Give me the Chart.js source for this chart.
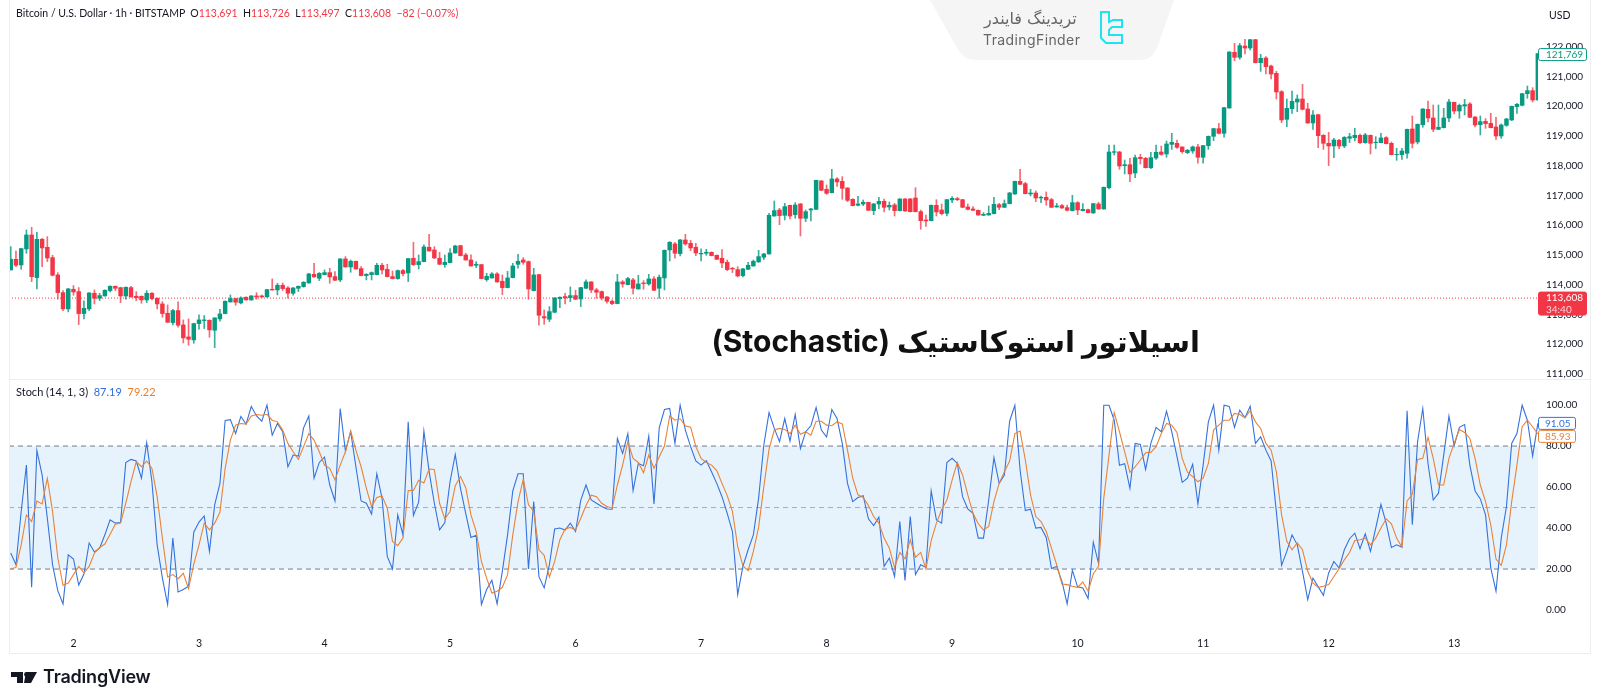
<!DOCTYPE html>
<html><head><meta charset="utf-8">
<script src="https://cdn.jsdelivr.net/npm/chart.js@4/dist/chart.umd.min.js"></script>
<style>
html,body{margin:0;padding:0;background:#fff;width:1600px;height:700px;overflow:hidden}
canvas{position:absolute;left:0}
.t{position:absolute;white-space:nowrap;font-family:Lato,"Open Sans",sans-serif;color:#131722}
.rule{position:absolute;background:#eceef2}
</style></head><body>
<canvas id="priceCanvas" width="1590" height="379" style="top:0"></canvas>
<canvas id="stochCanvas" width="1590" height="274" style="top:379px"></canvas>
<div class="rule" style="left:9px;top:0;width:1px;height:653px"></div>
<div class="rule" style="left:1590px;top:0;width:1px;height:653px"></div>
<div class="rule" style="left:9px;top:379px;width:1581px;height:1px"></div>
<div class="rule" style="left:9px;top:653px;width:1582px;height:1px"></div>
<svg width="1600" height="700" style="position:absolute;left:0;top:0;pointer-events:none">
  <path d="M930 0H1174L1157 48Q1152 60 1140 60H975Q963 60 957 48Z" fill="#f5f5f5"/>
  <path d="M1101 12H1109V22L1113 20H1122V27H1112L1109 30V35H1122V43H1106L1101 38Z" fill="none" stroke="#1fe3f2" stroke-width="2"/>
  <path d="M11 672H23V683H17V677H11ZM26 672H37L31 683H24Z" fill="#131722"/><circle cx="26.5" cy="674.5" r="2.4" fill="#131722"/>
</svg>
<div class="t" style="left:16px;top:6px;font-size:10.5px;line-height:14px"><span>Bitcoin / U.S. Dollar · 1h · BITSTAMP</span>&nbsp; O<span style="color:#f23645">113,691</span>&nbsp; H<span style="color:#f23645">113,726</span>&nbsp; L<span style="color:#f23645">113,497</span>&nbsp; C<span style="color:#f23645">113,608</span>&nbsp; <span style="color:#f23645">−82 (−0.07%)</span></div>
<div class="t" style="left:1549px;top:8px;font-size:10.5px;line-height:14px">USD</div>
<div class="t" dir="rtl" style="right:400px;top:320px;font-family:Inter,'DejaVu Sans';font-weight:bold;font-size:29px;line-height:42px;color:#111">اسیلاتور استوکاستیک <span style="font-size:30px">(Stochastic)</span></div>
<div class="t" dir="rtl" style="left:984px;top:9px;font-family:'DejaVu Sans';font-size:16px;line-height:20px;color:#666">تریدینگ فایندر</div>
<div class="t" style="left:983px;top:31px;font-family:Inter;font-size:14px;line-height:18px;color:#666;letter-spacing:.4px">TradingFinder</div>
<div class="t" style="left:16px;top:385px;font-size:11px;line-height:14px">Stoch (14, 1, 3)&nbsp; <span style="color:#2f6bdc">87.19</span>&nbsp; <span style="color:#e8802f">79.22</span></div>
<div class="t" style="left:43px;top:665px;font-family:Inter;font-weight:600;font-size:18px;line-height:24px;letter-spacing:-.2px">TradingView</div>
<script>
const opens=[114496,114854,114664,115202,115672,114238,115526,115258,114910,114328,113734,113186,113846,113768,113029,113186,113712,113544,113622,113802,113947,113902,113622,113902,113611,113611,113488,113712,113544,113354,113040,112726,113130,112648,112245,112144,112693,112794,112805,112469,112850,113029,113421,113533,113387,113578,113488,113622,113622,113589,113846,113824,113981,113891,113712,113880,113936,114059,114350,114216,114339,114406,114272,114160,114866,114597,114787,114541,114306,114339,114339,114653,114518,114272,114205,
114474,114395,114888,114675,114776,115258,115168,114888,114675,114742,115067,115314,115000,114832,114653,114675,114171,114227,114362,114115,113902,114238,114686,114832,114776,113802,114339,112928,112838,113074,113533,113600,113566,113634,113522,113880,114093,113824,113768,113589,113443,113365,114093,114003,114160,113858,114059,114026,114194,113880,114227,115168,115370,115045,115504,115392,115258,115034,115056,115090,114989,114888,114754,114552,114507,114306,114518,114630,114765,114922,115034,116310,116512,116333,116669,116355,116714,
116232,116512,116534,117486,117206,117094,117554,117475,117251,116870,116669,116714,116770,116490,116714,116803,116613,116680,116490,116882,116882,116915,116456,116176,116154,116669,116512,116400,116848,116893,116859,116613,116546,116501,116333,116344,116389,116691,116602,116725,117050,117475,117397,117050,117083,116915,116938,116859,116613,116658,116590,116490,116758,116490,116523,116411,116714,116546,117262,118450,118461,118002,118035,117755,118282,118248,117934,118259,118461,118394,118718,118752,
118630,118439,118495,118630,118283,118675,118988,119246,119089,119940,121811,121643,122023,121956,122236,121463,121620,121351,121105,120489,119559,119918,120142,120243,119907,119436,119716,119022,118753,118663,118854,118663,118921,118943,119022,118775,119022,118775,118775,118943,118753,118372,118372,118417,119235,118798,119380,119895,119604,119223,119279,119604,120131,119839,120007,120075,119638,119380,119492,119425,119302,119000,119358,119537,119985,120030,120422,120523,120209];
const highs=[115280,115134,115224,115840,115930,115762,115560,115616,114989,114406,113802,113880,113970,113902,113454,113734,113824,113712,113824,113958,113958,113914,113925,113947,113768,113622,113802,113734,113555,113432,113320,113174,113421,112816,112850,112704,112984,112962,112816,112894,113174,113454,113656,113544,113589,113589,113634,113734,113656,113846,114194,114048,114059,113936,113902,113958,114104,114384,114720,114406,114496,114552,114440,114877,114944,114832,114798,114608,114373,114429,114720,114720,114686,114462,114496,
114518,114888,115426,115000,115336,115694,115280,115090,115000,115213,115325,115325,115056,115000,114776,114686,114384,114406,114406,114328,114451,114720,115022,114910,114798,114552,114350,113152,113264,113566,113589,113712,113925,113813,113914,114160,114104,113880,113790,113600,113488,114350,114138,114250,114216,114317,114138,114350,114272,114328,115168,115448,115426,115526,115694,115493,115392,115202,115190,115101,115000,115179,114832,114586,114608,114552,114754,114832,115157,115056,116400,116814,116568,116736,116680,116758,116736,
116512,116568,117520,117509,117352,117878,117598,117632,117262,116893,116971,116848,116770,116736,116938,116882,116781,116736,116893,116893,116904,117262,116512,116344,116680,116859,116714,116870,116960,116938,116870,116714,116624,116512,116422,116646,116938,116736,116848,117106,117486,117878,117442,117206,117150,116982,117117,116904,116736,116702,116680,117005,116792,116725,116546,116736,116770,117285,118696,118696,118483,118192,118248,118360,118382,118282,118450,118696,118662,118830,119088,118864,
118640,118551,118663,118719,118686,119000,119257,119425,119963,121833,122113,122113,122247,122247,122247,121743,121665,121385,121172,120523,120243,120511,120377,120735,120097,119851,119727,119044,119123,118921,118887,118977,119089,119257,119067,119089,119033,118977,119089,118977,118798,118585,118585,119235,119671,119403,119918,120175,120041,120041,119929,120231,120142,120075,120231,120119,119649,119671,119582,119761,119627,119403,119593,120007,120097,120433,120679,120623,121769];
const lows=[114496,114608,114518,115056,114104,113858,114608,114776,114294,113510,113130,113085,113645,112659,112850,113130,113354,113466,113611,113757,113802,113398,113510,113578,113466,113376,113398,113488,113186,112906,112726,112648,112570,112043,111965,112032,112502,112525,112234,111886,112771,113018,113410,113309,113354,113477,113477,113510,113578,113578,113813,113656,113802,113544,113645,113768,113914,114048,114250,114138,114328,114048,114138,114104,114586,114418,114518,114294,114160,114160,114328,114362,114261,114194,114182,
114294,114104,114642,114530,114765,115123,114877,114675,114586,114731,115056,114966,114821,114619,114574,114194,114115,114216,114082,113667,113891,114227,114552,114686,113510,113790,112637,112670,112760,113051,113230,113354,113432,113499,113264,113869,113734,113544,113488,113376,113331,113354,113914,113992,113690,113846,113846,113981,113802,113544,113824,114798,114888,114966,115325,115146,114978,114798,114989,114966,114843,114574,114474,114406,114261,114261,114507,114619,114754,114843,115022,116299,116019,116176,116210,116232,115638,
116120,116142,116523,117162,117038,117083,117307,116870,116792,116646,116646,116658,116490,116355,116557,116445,116512,116310,116478,116467,116445,116445,115862,115963,116142,116310,116344,116310,116758,116826,116590,116512,116490,116333,116322,116333,116378,116523,116590,116714,117038,117363,117050,116982,116792,116758,116669,116590,116602,116568,116478,116478,116355,116478,116411,116400,116534,116534,117218,118360,117878,117722,117464,117598,118058,117923,117901,118214,118349,118282,118550,118584,
118417,118406,118417,118081,118081,118551,118843,119067,118955,119929,121531,121575,121755,121889,121452,121172,121083,120915,120243,119447,119313,119761,119817,119873,119425,119223,118607,118551,118003,118271,118574,118607,118775,118831,118742,118753,118395,118574,118764,118731,118361,118182,118215,118249,118596,118731,119291,119470,119145,119212,119268,119481,119739,119593,119705,119615,119302,119033,119257,119268,118887,118921,119324,119515,119761,120007,120265,120142,120200];
const closes=[114854,114653,115213,115672,114272,115526,115235,114899,114317,113734,113186,113858,113757,113029,113208,113723,113544,113634,113813,113947,113880,113622,113914,113589,113566,113488,113712,113533,113354,113029,112738,113130,112637,112211,112166,112693,112816,112816,112480,112883,113018,113443,113533,113410,113555,113488,113622,113589,113589,113835,113824,113981,113869,113712,113891,113947,114082,114362,114261,114384,114406,114261,114149,114866,114597,114787,114530,114306,114350,114406,114653,114496,114272,114205,114474,
114373,114877,114675,114776,115269,115134,114899,114686,114754,115067,115302,114978,114832,114630,114686,114205,114283,114362,114093,113902,114227,114630,114787,114754,113858,114328,112973,112883,113096,113555,113578,113555,113634,113510,113902,114093,113824,113746,113555,113443,113365,114093,114026,114205,113880,114026,114037,114194,113813,114250,115157,115426,115056,115504,115370,115235,115067,115056,115090,114978,114854,114731,114507,114530,114294,114530,114653,114787,114944,115034,116333,116490,116322,116624,116310,116680,116232,
116456,116546,117509,117173,117072,117554,117453,117240,116837,116658,116714,116770,116501,116714,116803,116602,116669,116490,116882,116478,116456,116456,116154,116142,116669,116445,116389,116859,116904,116859,116602,116534,116501,116344,116366,116400,116702,116602,116725,117083,117475,117374,117061,117083,116915,116938,116848,116602,116646,116579,116501,116758,116512,116534,116422,116725,116546,117274,118461,118472,117990,118035,117722,118270,118237,117934,118270,118450,118382,118730,118786,118618,
118473,118518,118630,118283,118675,118988,119246,119089,119951,121822,121643,122035,121956,122236,121463,121609,121329,121083,120478,119537,119929,120164,120243,119895,119436,119705,119011,118753,118663,118865,118663,118955,118977,119022,118775,119033,118753,118787,118932,118742,118372,118383,118495,119223,118753,119391,119907,119604,119223,119291,119604,120142,119839,120030,120052,119627,119369,119481,119414,119279,119000,119369,119571,119996,120063,120422,120523,120209,121769];
const stochK=[27.8,22.1,48.1,70.7,11.1,77.9,65.9,44.8,22.1,9.5,3.0,27.0,24.9,12.2,17.6,32.7,28.3,30.2,36.7,44.0,42.4,42.7,71.9,73.5,72.7,64.3,81.6,62.6,31.8,15.6,2.7,35.1,8.8,10.0,11.6,38.0,42.9,45.9,28.6,51.3,61.8,92.5,92.9,86.1,94.4,90.7,99.3,94.7,92.1,100,85.3,91.0,87.0,69.9,75.6,75.1,88.9,94.7,64.3,72.0,74.6,61.0,53.2,98.3,77.5,87.0,69.9,53.2,52.1,46.8,66.5,54.5,26.2,20.0,46.4,
36.7,91.8,46.1,52.6,87.3,67.5,52.1,39.1,42.7,62.6,75.9,59.4,47.2,35.4,36.5,2.7,10.0,14.5,3.0,18.9,36.7,58.1,66.5,66.5,20.0,52.9,16.3,10.8,22.1,39.5,40.0,39.0,42.4,38.3,53.6,61.0,53.7,52.1,50.5,49.3,49.2,83.7,76.4,86.1,58.3,71.5,70.4,84.8,51.8,88.9,97.8,98.3,81.3,99.9,87.8,79.7,72.7,70.7,72.9,67.5,61.8,55.3,47.2,38.3,7.5,21.3,29.4,36.7,54.5,80.5,96.3,88.6,82.1,93.4,82.4,95.4,78.8,
87.0,89.9,98.8,87.8,84.4,97.8,93.4,81.3,61.8,52.9,54.9,55.8,44.5,41.2,45.3,21.3,25.4,16.4,43.2,14.5,45.6,17.3,22.1,20.8,58.1,44.0,42.4,72.0,74.0,71.5,55.3,49.3,47.2,35.1,35.1,53.7,74.3,61.8,65.9,92.1,99.9,68.3,48.5,49.2,40.0,40.3,35.4,20.3,21.3,14.0,3.0,19.4,11.3,10.8,5.6,33.1,22.8,99.9,99.9,92.6,70.6,71.4,59.4,81.3,80.8,68.6,81.3,89.1,87.0,97.0,87.0,74.8,62.3,64.3,71.1,51.8,
70.7,91.8,99.9,78.0,99.9,99.3,89.1,97.5,93.8,99.4,81.3,84.5,78.0,72.7,48.0,21.8,28.6,36.7,31.8,18.9,5.1,15.6,11.3,7.2,18.1,23.7,20.5,29.4,34.8,37.5,29.9,37.2,28.6,40.0,51.6,42.4,30.5,31.8,30.7,97.2,41.6,82.1,98.3,71.5,53.7,57.0,75.6,94.6,80.1,89.1,90.5,70.7,58.1,54.2,46.4,20.5,9.2,35.1,50.5,81.3,86.1,99.9,92.6,75.1,91.05];
const stochD=[20.0,20.8,31.8,46.4,43.2,53.2,51.8,64.3,48.1,25.4,12.1,13.2,17.3,21.3,18.1,21.3,27.8,30.5,32.2,37.0,41.9,42.4,52.1,62.6,72.4,69.9,72.7,69.1,55.3,35.1,16.1,17.3,15.3,17.9,10.4,22.4,31.8,42.4,39.1,42.4,47.7,69.1,82.9,90.2,91.0,90.7,94.7,95.4,95.0,95.5,92.6,91.8,87.8,81.3,77.2,73.5,79.7,86.1,82.9,77.2,70.7,69.1,63.4,70.7,77.2,87.4,78.0,69.9,59.4,50.5,54.9,55.7,49.7,33.5,31.4,
35.1,58.3,58.3,63.3,62.0,68.8,68.6,52.1,44.5,48.1,60.7,65.1,59.7,46.4,38.3,23.7,15.6,8.3,9.2,11.1,17.3,36.7,52.9,63.8,51.3,48.1,29.4,26.7,16.1,23.7,34.3,39.5,40.3,39.1,44.8,51.0,56.0,55.3,52.1,50.5,49.7,61.0,70.7,82.1,74.0,72.0,67.0,75.6,69.1,74.8,80.0,94.7,92.6,93.3,89.9,89.2,79.7,74.0,72.0,70.7,68.0,61.8,55.8,48.1,31.0,21.6,19.2,28.6,40.3,60.2,78.5,87.8,88.6,88.1,86.0,90.2,85.7,
87.0,85.3,92.1,92.1,90.2,89.9,91.8,90.8,78.0,64.3,56.2,54.9,51.0,45.6,42.4,35.1,30.2,20.8,28.1,25.0,34.3,25.8,28.1,20.0,33.9,42.4,48.9,53.7,63.4,72.0,65.9,56.2,47.2,42.1,39.1,40.8,52.9,61.8,67.5,72.7,86.1,87.3,73.2,56.2,45.6,43.2,38.3,30.2,22.1,12.7,12.4,11.6,11.1,13.7,9.2,17.7,21.3,54.5,75.6,96.3,87.0,77.2,67.2,69.9,73.2,76.7,76.9,79.7,86.1,91.0,90.2,86.6,74.0,67.2,65.1,62.6,
64.3,71.5,87.8,90.2,92.6,92.6,95.9,95.4,93.8,97.2,91.8,88.6,81.3,78.0,67.5,46.4,33.5,29.4,32.7,29.4,18.9,13.2,11.1,11.6,12.4,16.4,20.2,24.5,28.1,33.9,34.3,35.1,31.8,35.1,40.0,44.5,42.1,35.1,30.7,53.2,56.5,73.5,74.0,84.2,74.0,61.0,61.0,74.0,81.3,88.1,86.6,83.7,74.0,61.0,52.9,41.6,24.9,21.8,31.8,52.9,70.7,89.4,92.6,89.4,85.93];
const priceTicks=[111000,112000,113000,114000,115000,116000,117000,118000,119000,120000,121000,122000];
const stochTicks=[0,20,40,60,80,100];
const bandLevels=[80,50,20];
const dayTicks=[12,36,60,84,108,132,156,180,204,228,252,276];
const dayLabels=['2','3','4','5','6','7','8','9','10','11','12','13'];
const currentPrice=113550, currentPriceText='113,608', countdownText='34:40', lastPriceText='121,769';

const UP='#089981',DOWN='#f23645',KC='#3572dc',DC='#ea8236',FONT='Lato, "Open Sans", sans-serif';
const XMIN=-0.33,XMAX=292.03;
const idx=opens.map((_,i)=>i);
const col=idx.map(i=>closes[i]>=opens[i]?UP:DOWN);
const wickCol=idx.map(i=>closes[i]>=opens[i]?'rgba(8,153,129,.8)':'rgba(242,54,69,.75)');
function box(ctx,x,y,w,h,fill,stroke){ctx.beginPath();ctx.roundRect(x+.5,y+.5,w-1,h-1,2);ctx.fillStyle=fill;ctx.fill();ctx.strokeStyle=stroke;ctx.lineWidth=1;ctx.stroke();}
const fixY=(a)=>{a.width=52;a.paddingTop=0;a.paddingBottom=0;};
const fixX=(a)=>{a.height=21;a.paddingLeft=0;a.paddingRight=0;};
Chart.defaults.font.family=FONT;

new Chart(document.getElementById('priceCanvas'),{
 type:'bar',
 data:{datasets:[
  {type:'line',data:[{x:XMIN,y:currentPrice},{x:XMAX,y:currentPrice}],borderColor:'#f23645',borderWidth:1,borderDash:[1,2],pointRadius:0,order:3},
  {data:idx.map(i=>({x:i,y:[lows[i],highs[i]]})),backgroundColor:wickCol,barThickness:1,grouped:false,order:2},
  {data:idx.map(i=>({x:i,y:[Math.min(opens[i],closes[i]),Math.max(opens[i],closes[i])]})),backgroundColor:col,barThickness:3.8,grouped:false,order:1}
 ]},
 options:{responsive:false,animation:false,events:[],
  layout:{autoPadding:false,padding:{left:9,right:0,top:0,bottom:0}},
  plugins:{legend:{display:false},tooltip:{enabled:false}},
  scales:{
   x:{type:'linear',display:false,offset:false,min:XMIN,max:XMAX,grid:{display:false}},
   y:{position:'right',min:110830,max:123570,afterFit:fixY,border:{display:false},grid:{display:false,drawTicks:false},
      afterBuildTicks:a=>{a.ticks=priceTicks.map(v=>({value:v}));},
      ticks:{padding:8,color:'#131722',font:{size:10},callback:v=>v.toLocaleString('en-US')}}
  }},
 plugins:[{id:'boxes',afterDraw(c){const ctx=c.ctx,y=c.scales.y,L=c.chartArea.right;ctx.save();ctx.textBaseline='middle';ctx.textAlign='left';ctx.font='10px '+FONT;
   const g=y.getPixelForValue(closes[closes.length-1])+1;
   box(ctx,L,g-6.5,49,13,'#fff',UP);ctx.fillStyle=UP;ctx.fillText(lastPriceText,L+8,g);
   const r=y.getPixelForValue(currentPrice);
   box(ctx,L,r-6.5,49,24,DOWN,DOWN);ctx.fillStyle='#fff';ctx.fillText(currentPriceText,L+8,r);ctx.fillStyle='#ffd5d9';ctx.fillText(countdownText,L+8,r+12);
   ctx.restore();}}]
});

new Chart(document.getElementById('stochCanvas'),{
 type:'line',
 data:{datasets:[
  {data:[{x:XMIN,y:bandLevels[0]},{x:XMAX,y:bandLevels[0]}],borderColor:'#787b86',borderWidth:1,borderDash:[5,4],pointRadius:0,fill:{value:bandLevels[2]},backgroundColor:'#e6f3fd',order:5},
  {data:[{x:XMIN,y:bandLevels[1]},{x:XMAX,y:bandLevels[1]}],borderColor:'#a8abb3',borderWidth:1,borderDash:[5,4],pointRadius:0,order:4},
  {data:[{x:XMIN,y:bandLevels[2]},{x:XMAX,y:bandLevels[2]}],borderColor:'#787b86',borderWidth:1,borderDash:[5,4],pointRadius:0,order:4},
  {data:idx.map(i=>({x:i,y:stochK[i]})),borderColor:KC,borderWidth:1.1,pointRadius:0,tension:0,order:2},
  {data:idx.map(i=>({x:i,y:stochD[i]})),borderColor:DC,borderWidth:1.1,pointRadius:0,tension:0,order:1}
 ]},
 options:{responsive:false,animation:false,events:[],
  layout:{autoPadding:false,padding:{left:9,right:0,top:0,bottom:0}},
  plugins:{legend:{display:false},tooltip:{enabled:false}},
  scales:{
   x:{type:'linear',offset:false,min:XMIN,max:XMAX,border:{display:false},grid:{display:false,drawTicks:false},afterFit:fixX,
      afterBuildTicks:a=>{a.ticks=dayTicks.map(v=>({value:v}));},
      ticks:{autoSkip:false,maxRotation:0,padding:5,color:'#131722',font:{size:10.5},callback:v=>dayLabels[dayTicks.indexOf(v)]}},
   y:{position:'right',min:-10.7,max:112.7,afterFit:fixY,border:{display:false},grid:{display:false,drawTicks:false},
      afterBuildTicks:a=>{a.ticks=stochTicks.map(v=>({value:v}));},
      ticks:{padding:8,color:'#131722',font:{size:10},callback:v=>v.toFixed(2)}}
  }},
 plugins:[{id:'boxes2',afterDraw(c){const ctx=c.ctx,y=c.scales.y,L=c.chartArea.right;ctx.save();ctx.textBaseline='middle';ctx.textAlign='left';ctx.font='10px '+FONT;
   const kv=stochK[stochK.length-1],dv=stochD[stochD.length-1];
   const a=y.getPixelForValue(kv),b=Math.max(y.getPixelForValue(dv),a+13);
   box(ctx,L,a-6.5,38,13,'#fff',KC);ctx.fillStyle=KC;ctx.fillText(kv.toFixed(2),L+7,a);
   box(ctx,L,b-6.5,38,13,'#fff',DC);ctx.fillStyle=DC;ctx.fillText(dv.toFixed(2),L+7,b);
   ctx.restore();}}]
});
</script></body></html>
